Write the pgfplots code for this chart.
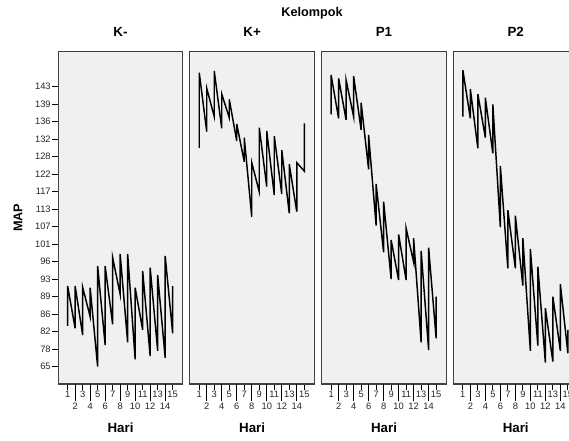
\documentclass[border=0pt]{standalone}
\usepackage{pgfplots}
\pgfplotsset{compat=1.18}
\usepackage{fontspec}
\setmainfont{Liberation Sans}
\definecolor{bgray}{HTML}{F0F0F0}
\pgfplotsset{
  panel/.style={
    scale only axis, width=93.4pt, height=249.2pt,
    at={(#1,-288pt)}, anchor=south west,
    xmin=-0.25, xmax=16.35, ymin=-0.99, ymax=18.0,
    axis background/.style={fill=bgray},
    axis line style={draw=black!75, line width=0.8pt},
    tick align=outside,
    xtick pos=bottom, ytick pos=left,
    xtick={1,3,...,15},
    extra x ticks={2,4,...,14},
    extra x tick style={major tick length=13pt},
    major tick length=4.5pt,
    tick style={black, line width=0.6pt},
    ytick=\empty,
    /pgf/number format/assume math mode=true,
    xticklabel style={font=\fontsize{7}{8}\selectfont, inner sep=0.8pt, text=black!85},
    yticklabel style={font=\fontsize{7}{8}\selectfont, inner sep=1pt, text=black!85},
    title style={at={(axis description cs:0.5,1.035)}, anchor=center, font=\bfseries\fontsize{10}{12}\selectfont},
    xlabel={Hari},
    xlabel style={at={(axis description cs:0.5,-0.1324)}, anchor=center, font=\bfseries\fontsize{10}{12}\selectfont},
  },
  dataline/.style={black, line width=1.1pt, line join=miter, mark=none},
}
\begin{document}
\begin{tikzpicture}
\useasboundingbox (0,-330.75pt) rectangle (426.75pt,0);
\clip (0,-330.75pt) rectangle (426.75pt,0);
\node[font=\bfseries\fontsize{9.5}{11}\selectfont] at (234pt,-9.75pt) {Kelompok};

\begin{axis}[panel=43.7pt, title={K-},
  ytick={0,...,16},
  yticklabels={65,78,82,86,89,93,96,101,107,113,117,122,128,132,136,139,143},
  ylabel={MAP},
  ylabel style={at={(axis description cs:-0.324,0.5)}, anchor=center, rotate=0, font=\bfseries\fontsize{9.5}{11}\selectfont}]
\addplot[dataline] coordinates {(1,2.33)(1,4.61)(2,2.19)(2,4.61)(3,1.81)(3,4.54)(4,2.86)(4,4.51)(5,0)(5,5.75)(6,1.24)(6,5.75)(7,2.42)(7,6.23)(8,4.14)(8,6.44)(9,1.39)(9,6.44)(10,0.42)(10,4.51)(11,2.10)(11,5.47)(12,0.61)(12,5.66)(13,0.91)(13,5.24)(14,0.51)(14,6.33)(15,1.91)(15,4.61)};
\end{axis}

\begin{axis}[panel=142.4pt, title={K+}]
\addplot[dataline] coordinates {(1,12.51)(1,16.80)(2,13.43)(2,15.91)(3,14.29)(3,16.90)(4,13.62)(4,15.58)(5,14.23)(5,15.28)(6,12.90)(6,13.87)(7,11.71)(7,13.09)(8,8.57)(8,11.66)(9,10.00)(9,13.66)(10,10.29)(10,13.47)(11,9.81)(11,13.18)(12,9.87)(12,12.38)(13,8.77)(13,11.57)(14,8.86)(14,11.66)(15,11.18)(15,13.91)};
\end{axis}

\begin{axis}[panel=241.3pt, title={P1}]
\addplot[dataline] coordinates {(1,14.42)(1,16.67)(2,14.19)(2,16.48)(3,14.10)(3,16.38)(4,14.29)(4,16.61)(5,13.53)(5,15.09)(6,11.28)(6,13.24)(7,8.06)(7,10.44)(8,6.54)(8,9.43)(9,5.01)(9,7.24)(10,4.95)(10,7.56)(11,4.95)(11,7.91)(12,5.97)(12,7.34)(13,1.39)(13,6.61)(14,0.95)(14,6.80)(15,1.62)(15,4.00)};
\end{axis}

\begin{axis}[panel=340.1pt, title={P2}]
\addplot[dataline] coordinates {(1,14.29)(1,16.95)(2,14.19)(2,15.87)(3,12.48)(3,15.58)(4,13.09)(4,15.37)(5,12.19)(5,14.99)(6,7.97)(6,11.47)(7,5.62)(7,8.95)(8,5.62)(8,8.63)(9,4.63)(9,7.34)(10,0.91)(10,6.73)(11,1.20)(11,5.71)(12,0.23)(12,3.34)(13,0.29)(13,4.00)(14,0.91)(14,4.71)(15,0.77)(15,2.10)};
\end{axis}
\end{tikzpicture}
\end{document}
